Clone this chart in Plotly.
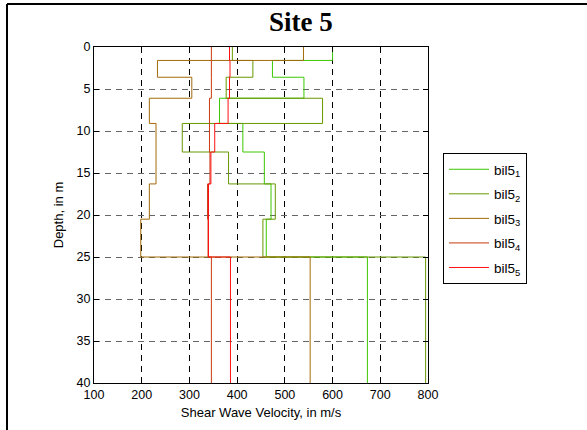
import plotly.graph_objects as go

# Layer bottom depths (m), shared by all profiles
layer_bottoms = [1.6, 3.6, 6.1, 9.1, 12.5, 16.3, 20.5, 25, 40]

# Shear wave velocity per layer (m/s)
bil5_1 = [600, 474, 540, 363, 412, 457, 471, 461, 673]
bil5_2 = [390, 433, 377, 579, 285, 382, 480, 454, 795]
bil5_3 = [539, 233, 305, 216, 230, 230, 216, 198, 553]
bil5_4 = [346, 346, 346, 342, 342, 343, 338, 339, 346]
bil5_5 = [384, 385, 384, 381, 353, 345, 340, 340, 386]

names = ["bil5<sub>1</sub>", "bil5<sub>2</sub>", "bil5<sub>3</sub>",
         "bil5<sub>4</sub>", "bil5<sub>5</sub>"]
colors = ["#3cc800", "#669900", "#a36a0a", "#cc3a10", "#ff1010"]
series = [bil5_1, bil5_2, bil5_3, bil5_4, bil5_5]

x_ticks = [100, 200, 300, 400, 500, 600, 700, 800]
y_ticks = [0, 5, 10, 15, 20, 25, 30, 35, 40]

fig = go.Figure()
for i, (name, col, vals) in enumerate(zip(names, colors, series)):
    fig.add_trace(go.Scatter(
        x=[vals[0]] + vals,
        y=[0] + layer_bottoms,
        mode="lines",
        line=dict(color=col, width=1, shape="hv"),
        name=name,
        legendgroup=f"g{i}",
    ))

W, H = 587, 430
ml, mr, mt, mb = 94, 159, 47, 47
pw = W - ml - mr
ph = H - mt - mb

def px2x(px):
    return (px - ml) / pw

def py2y(py):
    return (H - mb - py) / ph

fig.update_layout(
    width=W, height=H,
    margin=dict(l=ml, r=mr, t=mt, b=mb),
    paper_bgcolor="white",
    plot_bgcolor="white",
    font=dict(family="Liberation Sans, Arial, sans-serif", size=12, color="black"),
    showlegend=True,
    legend=dict(
        x=px2x(443), y=py2y(153), xanchor="left", yanchor="top",
        bordercolor="black", borderwidth=1, bgcolor="white",
        font=dict(family="Liberation Sans, Arial, sans-serif", size=13.5, color="black"),
        tracegroupgap=4, itemwidth=40,
    ),
    xaxis=dict(
        range=[100, 800], tickvals=x_ticks, ticktext=[str(v) for v in x_ticks],
        showline=True, linecolor="black", linewidth=1, mirror="ticks",
        ticks="inside", ticklen=5, tickcolor="black",
        showgrid=True, gridcolor="black", gridwidth=1, griddash="6px,5px",
        zeroline=False,
        title=dict(text="Shear Wave Velocity, in m/s", font=dict(size=13), standoff=6),
        tickfont=dict(size=12.5),
    ),
    yaxis=dict(
        range=[40, 0], tickvals=y_ticks, ticktext=[str(v) for v in y_ticks],
        showline=True, linecolor="black", linewidth=1, mirror="ticks",
        ticks="inside", ticklen=5, tickcolor="black",
        showgrid=True, gridcolor="#666666", gridwidth=1.3, griddash="6px,5px",
        zeroline=False,
        title=dict(text="Depth, in m", font=dict(size=13), standoff=10),
        tickfont=dict(size=12.5),
    ),
    annotations=[dict(
        text="<b>Site 5</b>", xref="paper", yref="paper",
        x=px2x(301), y=py2y(22), xanchor="center", yanchor="middle",
        showarrow=False,
        font=dict(family="Liberation Serif, Times New Roman, serif", size=27, color="black"),
    )],
    shapes=[
        dict(type="line", xref="paper", yref="paper",
             x0=px2x(7), x1=px2x(7), y0=py2y(440), y1=py2y(4),
             line=dict(color="black", width=2)),
        dict(type="line", xref="paper", yref="paper",
             x0=px2x(7), x1=px2x(600), y0=py2y(4), y1=py2y(4),
             line=dict(color="black", width=2)),
    ],
)

fig.write_html("out.html", config={"displayModeBar": False},
               post_script="document.body.style.margin='0';")
